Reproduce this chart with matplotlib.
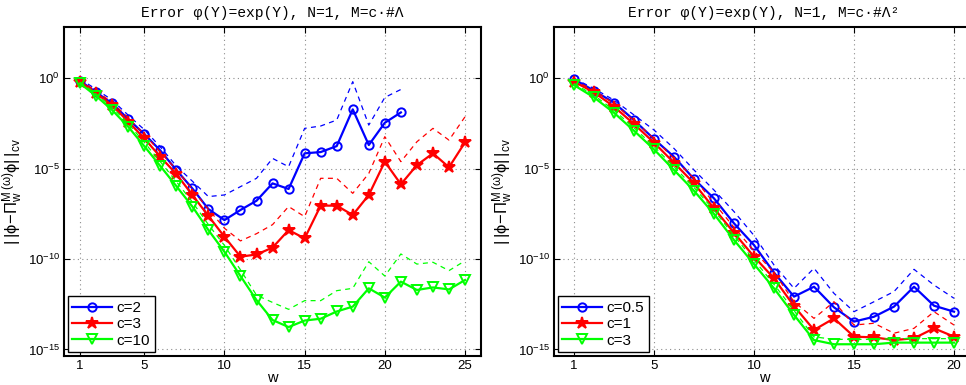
import matplotlib
matplotlib.use('Agg')
from matplotlib import pyplot as plt
import numpy as np

plt.rcParams['font.family'] = ['Liberation Sans', 'DejaVu Sans']
plt.rcParams['mathtext.fontset'] = 'dejavusans'
plt.rcParams['mathtext.default'] = 'regular'

# values, as log10 of the error
w_l2 = np.arange(1, 22)
w_l = np.arange(1, 26)
w_r = np.arange(1, 21)

left_c2 = [-0.15, -0.79, -1.40, -2.27, -3.09, -4.00, -5.08, -6.10, -7.24, -7.85, -7.29,
           -6.78, -5.82, -6.13, -4.16, -4.09, -3.76, -1.73, -3.70, -2.47, -1.90]
left_c2_d = [-0.05, -0.62, -1.22, -2.05, -2.85, -3.80, -4.86, -5.70, -6.55, -6.46, -6.00,
             -5.54, -4.44, -4.90, -2.78, -2.65, -2.32, -0.20, -2.60, -1.07, -0.63]
left_c3 = [-0.20, -0.85, -1.50, -2.41, -3.33, -4.35, -5.30, -6.46, -7.62, -8.77, -9.87,
           -9.75, -9.37, -8.40, -8.86, -7.05, -7.05, -7.57, -6.46, -4.62, -5.87, -4.81,
           -4.16, -4.93, -3.55]
left_c3_d = [-0.12, -0.72, -1.35, -2.20, -3.10, -4.10, -5.05, -6.15, -7.25, -8.30, -9.00,
             -8.60, -8.10, -7.10, -7.66, -5.54, -5.54, -6.37, -5.27, -3.24, -4.62, -3.52,
             -2.78, -3.43, -2.14]
left_c10 = [-0.30, -0.99, -1.77, -2.69, -3.76, -4.86, -5.97, -7.10, -8.40, -9.60, -10.94,
            -12.27, -13.37, -13.76, -13.40, -13.30, -12.90, -12.63, -11.62, -12.13, -11.25,
            -11.71, -11.57, -11.68, -11.16]
left_c10_d = [-0.22, -0.88, -1.62, -2.52, -3.55, -4.62, -5.72, -6.85, -8.10, -9.25, -10.60,
              -12.00, -12.40, -12.78, -12.30, -12.30, -11.75, -11.62, -10.15, -10.94, -9.72,
              -10.28, -10.18, -10.64, -10.10]

right_c05 = [-0.06, -0.70, -1.36, -2.32, -3.37, -4.35, -5.58, -6.65, -8.03, -9.23, -10.75,
             -12.08, -11.53, -12.67, -13.46, -13.19, -12.63, -11.53, -12.58, -12.91]
right_c05_d = [-0.02, -0.58, -1.22, -2.04, -2.87, -3.89, -5.08, -6.19, -7.38, -8.70, -10.33,
               -11.62, -10.51, -11.90, -12.91, -12.36, -11.80, -10.57, -11.44, -12.17]
right_c1 = [-0.20, -0.79, -1.58, -2.54, -3.57, -4.68, -5.82, -7.20, -8.55, -9.87, -11.07,
            -12.60, -13.92, -13.28, -14.29, -14.33, -14.48, -14.38, -13.83, -14.29]
right_c1_d = [-0.12, -0.68, -1.42, -2.35, -3.35, -4.45, -5.55, -6.90, -8.25, -9.55, -10.75,
              -12.36, -13.28, -12.36, -13.65, -13.55, -14.10, -13.83, -12.91, -13.65]
right_c3 = [-0.39, -1.07, -1.92, -2.91, -3.94, -5.08, -6.23, -7.51, -8.95, -10.28, -11.62,
            -13.09, -14.48, -14.71, -14.71, -14.71, -14.62, -14.62, -14.62, -14.62]
right_c3_d = [-0.30, -0.95, -1.78, -2.75, -3.78, -4.90, -6.05, -7.30, -8.72, -10.05, -11.40,
              -12.85, -14.30, -14.44, -14.44, -14.44, -14.40, -14.40, -14.40, -14.40]

xticks_l = [1, 5, 10, 15, 20, 25]
xticks_r = [1, 5, 10, 15, 20]
yticks = [1e-15, 1e-10, 1e-5, 1e0]

blue = (0, 0, 1)
red = (1, 0, 0)
green = (0, 1, 0)

fig = plt.figure(figsize=(9.66, 3.85), dpi=100)
ax1 = fig.add_axes([0.0663, 0.0753, 0.4317, 0.8545])
ax2 = fig.add_axes([0.5735, 0.0753, 0.4348, 0.8545])

ylab = r'$|\,|\phi\!-\!\Pi_w^{M\,(\omega)}\phi|\,|_{cv}$'


def style(ax, xticks, xlim, title):
    ax.set_yscale('log')
    ax.set_xlim(xlim)
    ax.set_ylim(10 ** -15.36, 10 ** 2.82)
    ax.set_xticks(xticks)
    ax.set_yticks(yticks)
    ax.minorticks_off()
    ax.tick_params(direction='in', top=True, right=True, length=4, width=0.8,
                   labelsize=9.5, pad=3)
    ax.grid(True, linestyle=(0, (1, 3)), color='0.55', linewidth=0.8)
    for s in ax.spines.values():
        s.set_linewidth(1.5)
    ax.set_xlabel('w', fontsize=10.5, labelpad=-1)
    ax.set_ylabel(ylab, fontsize=12, labelpad=2)
    ax.set_title(title, fontsize=10.5, family=['Liberation Mono', 'DejaVu Sans Mono'],
                 pad=7)


def series(ax, x, y, yd, color, marker, label, ms, fill):
    ax.plot(x, 10 ** np.array(yd), '--', color=color, lw=0.9, dashes=(4, 3.5))
    ax.plot(x, 10 ** np.array(y), '-', color=color, lw=1.6, marker=marker,
            markersize=ms, markerfacecolor=color if fill else 'none',
            markeredgewidth=1.4, label=label)


series(ax1, w_l2, left_c2, left_c2_d, blue, 'o', 'c=2', 6, False)
series(ax1, w_l, left_c3, left_c3_d, red, '*', 'c=3', 9, True)
series(ax1, w_l, left_c10, left_c10_d, green, 'v', 'c=10', 6.5, False)
style(ax1, xticks_l, (0, 26), 'Error \u03c6(Y)=exp(Y), N=1, M=c\u00b7#\u039b')

series(ax2, w_r, right_c05, right_c05_d, blue, 'o', 'c=0.5', 6, False)
series(ax2, w_r, right_c1, right_c1_d, red, '*', 'c=1', 9, True)
series(ax2, w_r, right_c3, right_c3_d, green, 'v', 'c=3', 6.5, False)
style(ax2, xticks_r, (0, 21), 'Error \u03c6(Y)=exp(Y), N=1, M=c\u00b7#\u039b\u00b2')

for ax in (ax1, ax2):
    leg = ax.legend(loc='lower left', fontsize=11, handlelength=2.6, borderaxespad=0.25,
                    borderpad=0.3, labelspacing=0.15, handletextpad=0.3, fancybox=False,
                    framealpha=1)
    leg.get_frame().set_edgecolor('black')
    leg.get_frame().set_linewidth(1.0)

plt.savefig('out.png', dpi=100)
